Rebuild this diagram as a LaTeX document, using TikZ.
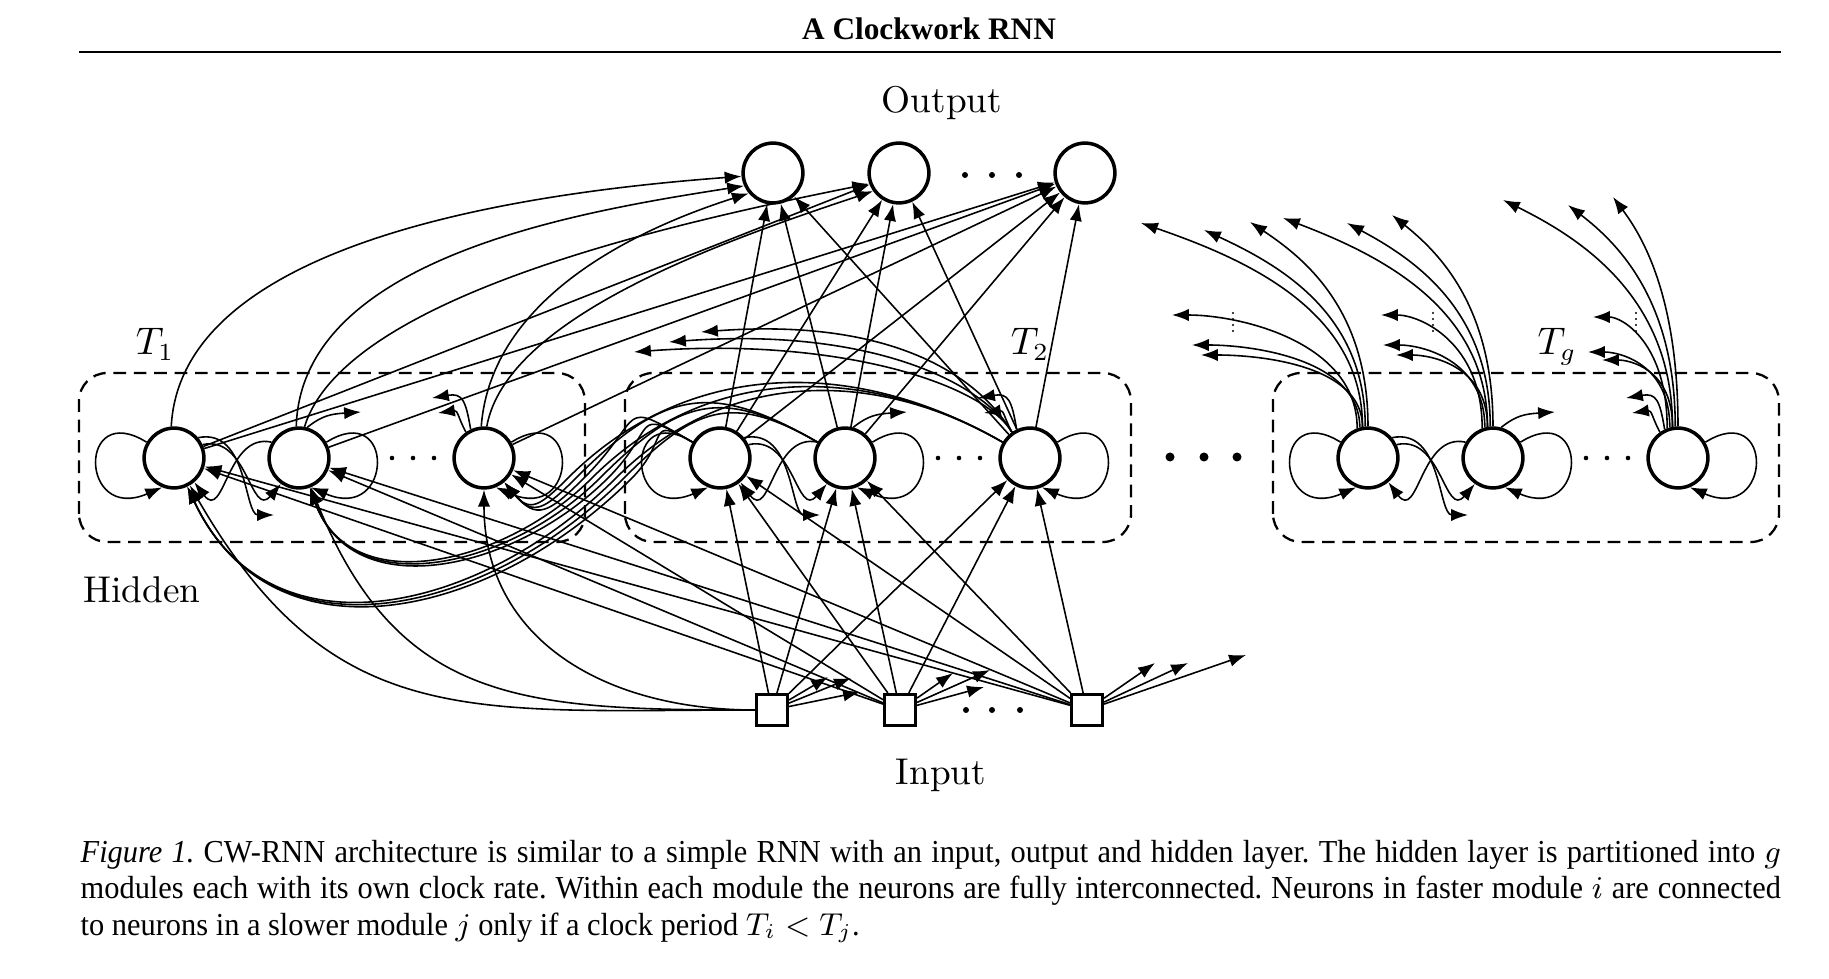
\documentclass[tikz,border=0pt]{standalone}
\usepackage{fontspec}
\newfontfamily\timesfont{Liberation Serif}
\newfontfamily\capfont[FakeStretch=0.95]{Liberation Serif}
\usetikzlibrary{arrows.meta}

\begin{document}
\begin{tikzpicture}[x=0.01cm,y=0.01cm,
  neuron/.style={circle,draw,line width=1pt,minimum size=17pt,inner sep=0pt},
  unit/.style={rectangle,draw,line width=1pt,minimum size=8.7pt,inner sep=0pt},
  link/.style={-{Latex[length=4.8pt,width=3.5pt]},line width=0.45pt},
  module/.style={draw,line width=0.65pt,dash pattern=on 3.6pt off 2.2pt,rounded corners=8pt},
  lbl/.style={font=\fontsize{10.6}{12}\selectfont,anchor=base}]
  \useasboundingbox (0,0) rectangle (1829,978);

  % running head
  \node[anchor=base,font=\timesfont\bfseries\fontsize{8.9}{10}\selectfont] (head) at (929,938) {A Clockwork RNN};
  \draw[line width=0.85pt] (79,926) -- (1781,926);

  % output layer
  \node[neuron] (o1) at (773,805) {};
  \node[neuron] (o2) at (899,805) {};
  \node[neuron] (o3) at (1085,805) {};
  \foreach \x in {965,992,1019} \fill (\x,803) circle (3);
  \node[lbl] (outlbl) at (942,865) {Output};

  % input layer
  \node[unit] (i1) at (772,268) {};
  \node[unit] (i2) at (900,268) {};
  \node[unit] (i3) at (1087,268) {};
  \foreach \x in {966,992,1020} \fill (\x,268) circle (3);
  \node[lbl] (inlbl) at (941,193) {Input};
  \node[lbl] (hidlbl) at (142,375) {Hidden};

  % hidden modules
  \foreach \m/\x in {a/174,b/720,c/1368} {
    \node[neuron] (\m1) at (\x,520) {};
    \node[neuron] (\m2) at (\x+125,520) {};
    \node[neuron] (\m3) at (\x+310,520) {};
    \draw[module] (\x-95,436) rectangle (\x+411,605);
    \foreach \d in {-21,0,21} \fill (\x+239+\d,520) circle (2.3);
    % inside the module
    \draw[link] (\m1.150) .. controls +(-69,43) and +(-83,-36) .. (\m1.-112);
    \draw[link] (\m2.30) .. controls +(69,43) and +(83,-36) .. (\m2.-68);
    \draw[link] (\m3.30) .. controls +(69,43) and +(83,-36) .. (\m3.-68);
    \draw[link] (\m1.25) .. controls +(45,10) and +(-30,-35) .. (\m2.-125);
    \draw[link] (\m2.150) .. controls +(-45,10) and +(30,-40) .. (\m1.-50);
    \coordinate (\m-low) at (\x+100,463);
    \coordinate (\m-right) at (\x+187,566);
    \coordinate (\m-left1) at (\x+258,580);
    \coordinate (\m-left2) at (\x+264,565);
    \draw[link] (\m1.40) .. controls +(50,10) and +(-30,0) .. (\m-low);
    \draw[link] (\m2.75) .. controls +(15,12) and +(-30,-2) .. (\m-right);
    \draw[link] (\m3.115) .. controls +(-5,30) and +(30,5) .. (\m-left1);
    \draw[link] (\m3.125) .. controls +(-8,15) and +(20,3) .. (\m-left2);
  }
  \foreach \x in {1170,1204,1237} \fill (\x,521) circle (4.5);
  \node[lbl] (t1) at (155,623) {$T_1$};
  \node[lbl] (t2) at (1030,623) {$T_2$};
  \node[lbl] (tg) at (1557,623) {$T_g$};

  % input to hidden
  \foreach \i in {1,2,3}
    \foreach \k in {1,2,3}
      \draw[link] (i\i) -- (b\k);
  \foreach \i in {2,3}
    \foreach \k in {1,2,3}
      \draw[link] (i\i) -- (a\k);
  \draw[link] (i1.west) to[out=180,in=-60,looseness=1.2] (a1);
  \draw[link] (i1.west) to[out=180,in=-68,looseness=1.2] (a2);
  \draw[link] (i1.west) to[out=180,in=-90,looseness=1.1] (a3);
  \foreach \i/\dx/\dy/\j in {i1/56/33/1,i1/79/32/2,i1/88/18/3,
                             i2/53/37/1,i2/90/40/2,i2/84/23/3,
                             i3/68/47/1,i3/101/47/2,i3/159/55/3} {
    \coordinate (\i-r\j) at ([shift={(\dx,\dy)}]\i.center);
    \draw[link] (\i) -- (\i-r\j);
  }

  % slower module T2 into T1
  \foreach \k/\lo in {1/2.0,2/1.3,3/1.0} {
    \foreach \i/\ia/\il in {1/-65/1.15,2/-70/1.1,3/-50/1.6} {
      \pgfmathsetmacro\wx{568+8*(3*(3-\i)+(3-\k))}
      \coordinate (w\k\i) at (\wx,500);
      \draw[link] (b\k.150) to[out=150,in=45,looseness=\lo] (w\k\i)
        to[out=225,in=\ia,looseness=\il] (a\i);
    }
  }
  \foreach \ex/\ey/\j in {634/626/1,669/636/2,701/646/3} {
    \coordinate (b3-far\j) at (\ex,\ey);
    \draw[link] (b3.125) .. controls +(-30,50) and +(200,15) .. (b3-far\j);
  }

  % hidden to output
  \draw[link] (a1.95) .. controls +(10,190) and +(-200,-15) .. (o1.186);
  \draw[link] (a2.95) .. controls +(5,170) and +(-160,-25) .. (o1.204);
  \draw[link] (a3.95) .. controls +(10,130) and +(-110,-35) .. (o1.220);
  \draw[link] (a2.80) .. controls +(40,130) and +(-200,-40) .. (o2.200);
  \draw[link] (a3.85) .. controls +(20,110) and +(-150,-50) .. (o2.215);
  \draw[link] (a1) -- (o2);
  \draw[link] (a1) -- (o3);
  \draw[link] (a2) -- (o3);
  \draw[link] (a3) -- (o3);
  \foreach \k in {1,2,3}
    \foreach \o in {1,2,3}
      \draw[link] (b\k) -- (o\o);

  % module T_g, cut short
  \foreach \n/\dx/\dy/\s/\j in {c1/-227/235/100/1,c1/-164/228/95/2,c1/-118/236/90/3,
                                c2/-210/240/100/1,c2/-146/235/95/2,c2/-101/243/90/3,
                                c3/-175/258/100/1,c3/-110/253/95/2,c3/-65/261/90/3} {
    \coordinate (\n-L\j) at ([shift={(\dx,\dy)}]\n.center);
    \draw[link] (\n.\s) .. controls +(0,{0.5*\dy}) and +({-0.45*\dx},{-0.15*\dy}) .. (\n-L\j);
  }
  \foreach \n/\dx/\dy/\s/\j in {c1/-196/143/110/1,c1/-176/113/105/2,c1/-167/103/100/3,
                                c2/-112/143/110/1,c2/-110/113/105/2,c2/-97/103/100/3,
                                c3/-85/141/110/1,c3/-90/106/105/2,c3/-76/98/100/3} {
    \coordinate (\n-S\j) at ([shift={(\dx,\dy)}]\n.center);
    \draw[link] (\n.\s) .. controls +(0,{0.6*\dy}) and +({-0.35*\dx},0) .. (\n-S\j);
  }
  \foreach \x in {1233,1433,1636}
    \foreach \y in {647,653,659,665}
      \fill (\x,\y) circle (1.1);

  % caption
  \begin{scope}[every node/.style={anchor=base west,inner sep=0pt,
      font=\capfont\fontsize{9.1}{10.4}\selectfont\frenchspacing}]
    \node (cap1) at (80,116) {\spaceskip=0.21em plus 0.3em minus 0.03em
      \makebox[483.5pt][s]{\textit{Figure 1.} CW-RNN architecture is similar to a simple RNN with an input, output and hidden layer. The hidden layer is partitioned into $g$}};
    \node (cap2) at (80,80) {\spaceskip=0.21em plus 0.3em minus 0.03em
      \makebox[483.5pt][s]{modules each with its own clock rate. Within each module the neurons are fully interconnected. Neurons in faster module $i$ are connected}};
    \node (cap3) at (80,43) {to neurons in a slower module $j$ only if a clock period $T_i < T_j$.};
  \end{scope}
\end{tikzpicture}
\end{document}
